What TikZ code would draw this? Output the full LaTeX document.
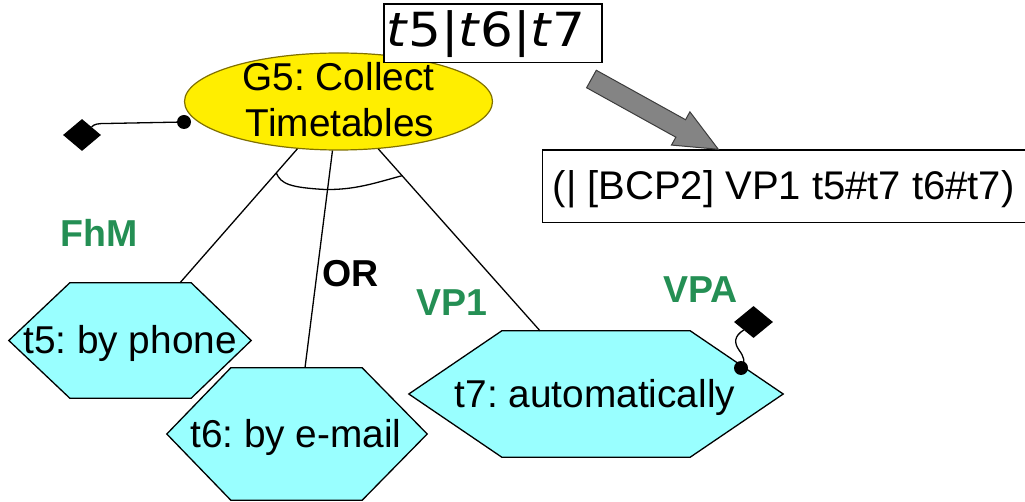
\documentclass[tikz,border=0pt]{standalone}
\usepackage{graphicx}
\usepackage{fontspec}
\setmainfont{Liberation Sans}
\newfontfamily\dvs{DejaVu Sans}
\usetikzlibrary{shapes.geometric,calc,backgrounds}

\definecolor{goalfill}{RGB}{255,238,0}
\definecolor{goaldraw}{RGB}{128,112,0}
\definecolor{taskfill}{RGB}{153,255,255}
\definecolor{lblgreen}{RGB}{36,143,84}
\definecolor{arrowfill}{RGB}{132,132,132}
\definecolor{arrowdraw}{RGB}{60,60,60}

\tikzset{
  body/.style={font=\fontsize{38.8}{46}\selectfont, inner sep=0pt},
  tag/.style={font=\fontsize{37.5}{40}\selectfont\bfseries, inner sep=0pt, anchor=base west},
  taskbox/.style={rectangle, inner sep=0pt, draw=none},
  hexline/.style={draw=black, fill=taskfill, line width=1.3pt, line join=miter},
  link/.style={draw=black, line width=1.3pt},
  contrib/.style={diamond, fill=black, inner sep=0pt, minimum width=38, minimum height=32},
  dotend/.style={circle, fill=black, inner sep=0pt, minimum size=14},
  framebox/.style={draw=black, fill=white, line width=1.3pt, inner sep=0pt},
}

\begin{document}
\frenchspacing
\begin{tikzpicture}[x=1pt,y=-1pt]
\useasboundingbox (0,0) rectangle (1025,502);

% goal
\node[ellipse, draw=goaldraw, fill=goalfill, line width=1.2pt,
      minimum width=308, minimum height=97, inner sep=0pt] (g5) at (338.5,101.5) {};
\node[body, anchor=base] (g5a) at (338.5,91) {G5: Collect};
\node[body, anchor=base] (g5b) at (340,137) {Timetables};

% tasks (inner rectangles; hexagon outlines drawn behind)
\node[taskbox, minimum width=121, minimum height=115] (t5) at (130.5,340.5) {};
\node[taskbox, minimum width=131, minimum height=132] (t6) at (296.5,434) {};
\node[taskbox, minimum width=188, minimum height=126] (t7) at (596,394) {};

\begin{scope}[on background layer]
  \path[hexline] (t5.north west) -- (t5.north east) -- ($(t5.east)+(60,0)$)
    -- (t5.south east) -- (t5.south west) -- ($(t5.west)+(-61,0)$) -- cycle;
  \path[hexline] (t6.north west) -- (t6.north east) -- ($(t6.east)+(65,0)$)
    -- (t6.south east) -- (t6.south west) -- ($(t6.west)+(-64,0)$) -- cycle;
  \path[hexline] (t7.north west) -- (t7.north east) -- ($(t7.east)+(93,0)$)
    -- (t7.south east) -- (t7.south west) -- ($(t7.west)+(-93,0)$) -- cycle;
\end{scope}

\node[body, anchor=base] (t5txt) at (130,353) {t5: by phone};
\node[body, anchor=base] (t6txt) at (296,447) {t6: by e-mail};
\node[body, anchor=base] (t7txt) at (595,407) {t7: automatically};

% decomposition links
\coordinate (l1a) at (g5.229.5);
\coordinate (l1b) at ($(t5.north)+(49.5,0)$);
\coordinate (l2a) at (g5.263.2);
\coordinate (l2b) at ($(t6.north)+(8.5,0)$);
\coordinate (l3a) at (g5.310.5);
\coordinate (l3b) at ($(t7.north)+(-56,0)$);
\draw[link] (l1a) -- (l1b);
\draw[link] (l2a) -- (l2b);
\draw[link] (l3a) -- (l3b);
\draw[link] ($(l1a)!0.18!(l1b)$) .. controls (281,184) and (290,187.5) .. (325,189.5)
  .. controls (355,190) and (375,183) .. ($(l3a)!0.147!(l3b)$);

% labels
\node[tag, text=lblgreen] (fhm) at (60,247) {FhM};
\node[tag] (orl) at (322.5,287) {OR};
\node[tag, text=lblgreen] (vp1) at (416,316) {VP1};
\node[tag, text=lblgreen] (vpa) at (663,303) {VPA};

% contribution markers
\node[contrib] (ca) at (82,135) {};
\node[dotend] (da) at (184,122) {};
\draw[link] (ca.north east) .. controls +(3,-3) and +(-8,0) .. (106,123.5) -- (da.center);

\node[contrib, minimum width=39] (cb) at (753.5,322) {};
\node[dotend] (db) at (741,368) {};
\draw[link] (cb.south west) .. controls (734,336) and (734,343) .. (739,350)
  .. controls (744,357) and (746,362) .. (db.center);

% alternatives box
\node[framebox, minimum width=218, minimum height=58.7] (alts) at (493,33.4) {};
\node[anchor=base, inner sep=0pt, font=\dvs\fontsize{47}{50}\selectfont] (altstxt) at (486,46.7)
  {\scalebox{1.1}[1]{\textit{t}5|\textit{t}6|\textit{t}7}};

% expression box
\node[framebox, anchor=north west, minimum width=500, minimum height=72.4] (bcp) at (541.7,149.3) {};
\node[inner sep=0pt, anchor=base west, font=\fontsize{40}{46}\selectfont] (bcptxt) at (552.5,199.3)
  {(| [BCP2] VP1 t5\#t7 t6\#t7)};

% transformation arrow
\coordinate (atail) at ($(alts.south east)+(-11.2,15.6)$);
\coordinate (atip) at ($(bcp.north west)+(176.6,0)$);
\coordinate (abase) at ($(atip)!43pt!(atail)$);
\draw[draw=arrowdraw, fill=arrowfill, line width=1pt, line join=miter]
  ($(atail)!10pt!90:(atip)$) -- ($(abase)!10pt!90:(atip)$) -- ($(abase)!19pt!90:(atip)$)
  -- (atip) -- ($(abase)!19pt!-90:(atip)$) -- ($(abase)!10pt!-90:(atip)$)
  -- ($(atail)!10pt!-90:(atip)$) -- cycle;
\end{tikzpicture}
\end{document}
